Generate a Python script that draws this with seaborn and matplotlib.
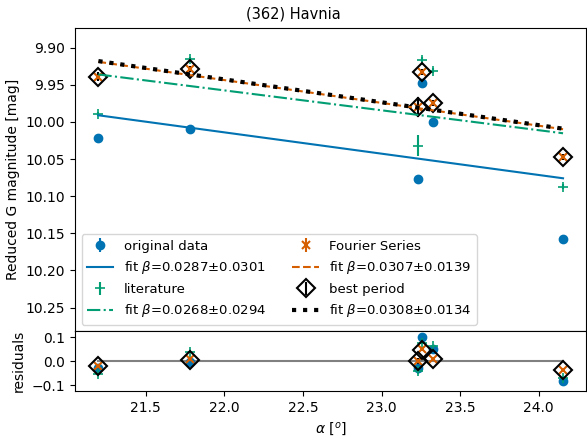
import numpy as np
import pandas as pd
import seaborn as sns
import matplotlib.pyplot as plt

sns.set_palette('colorblind')
plt.rcParams.update({'font.size': 10})

# phase angle of the observations [deg]
alpha = [21.198, 21.779, 23.235, 23.26, 23.33, 24.155]

# reduced G magnitudes
mag_orig = [10.021, 10.010, 10.077, 9.947, 10.000, 10.157]
err_orig = [0.003, 0.003, 0.003, 0.003, 0.003, 0.003]
mag_lit = [9.989, 9.915, 10.032, 9.916, 9.931, 10.087]
err_lit = [0.003, 0.003, 0.014, 0.003, 0.003, 0.003]
mag_four = [9.939, 9.929, 9.980, 9.933, 9.975, 10.047]
err_four = [0.005, 0.004, 0.012, 0.004, 0.004, 0.004]
mag_best = [9.939, 9.929, 9.980, 9.933, 9.975, 10.047]
err_best = [0.006, 0.004, 0.013, 0.004, 0.004, 0.004]

# linear fits: magnitude at the first alpha and slope beta
fit_h = {'orig': 9.991, 'lit': 9.936, 'four': 9.919, 'best': 9.918}
fit_beta = {'orig': 0.0287, 'lit': 0.0268, 'four': 0.0307, 'best': 0.0308}
fit_beta_err = {'orig': 0.0301, 'lit': 0.0294, 'four': 0.0139, 'best': 0.0134}

blue = '#0173b2'
green = '#029e73'
orange = '#d55e00'

a = np.array(alpha)
a0 = a.min()
xfit = np.array([a.min(), a.max()])


def fit(key, x):
    return fit_h[key] + fit_beta[key] * (x - a0)


fig, (ax, axr) = plt.subplots(2, 1, sharex=True, figsize=(5.87, 4.37), dpi=100,
                              gridspec_kw=dict(height_ratios=[304, 60], hspace=0))
fig.subplots_adjust(left=0.128, right=0.998, top=0.935, bottom=0.105)

sets = [
    ('orig', mag_orig, err_orig, dict(fmt='o', color=blue, ms=6), 'original data',
     dict(color=blue, linestyle='-', lw=1.5)),
    ('lit', mag_lit, err_lit, dict(fmt='+', color=green, ms=7, mew=1.2), 'literature',
     dict(color=green, linestyle='-.', lw=1.5)),
    ('four', mag_four, err_four, dict(fmt='x', color=orange, ms=6, mew=1.5), 'Fourier Series',
     dict(color=orange, linestyle='--', lw=1.5)),
    ('best', mag_best, err_best, dict(fmt='D', color='black', mfc='none', ms=9, mew=1.5), 'best period',
     dict(color='black', linestyle=':', lw=3)),
]

handles = []
labels = []
axr.plot(xfit, [0, 0], color='grey', lw=1.5, zorder=1)
for key, m, e, style, name, lstyle in sets:
    h = ax.errorbar(alpha, m, yerr=e, label=name, zorder=3, **style)
    df = pd.DataFrame({'alpha': xfit, 'mag': fit(key, xfit)})
    sns.lineplot(data=df, x='alpha', y='mag', ax=ax, zorder=4, **lstyle)
    ln = ax.get_lines()[-1]
    handles += [h, ln]
    labels += [name, r'fit $\beta$=%.4f$\pm$%.4f' % (fit_beta[key], fit_beta_err[key])]
    resid = fit(key, a) - np.array(m)
    axr.errorbar(alpha, resid, yerr=e, zorder=3, **style)

ax.set_ylim(10.282, 9.874)
ax.set_yticks([9.90, 9.95, 10.00, 10.05, 10.10, 10.15, 10.20, 10.25])
ax.set_ylabel('Reduced G magnitude [mag]')
ax.set_xlabel('')
fig.suptitle('(362) Havnia', fontsize=10.5, y=0.985)
ax.legend(handles, labels, ncol=2, loc='lower left', fontsize=9.5)

axr.set_xlim(21.05, 24.30)
axr.set_ylim(-0.125, 0.125)
axr.set_yticks([-0.1, 0.0, 0.1])
axr.set_ylabel('residuals')
axr.set_xlabel(r'$\alpha$ [$^o$]')

fig.savefig('out.png', dpi=100)
